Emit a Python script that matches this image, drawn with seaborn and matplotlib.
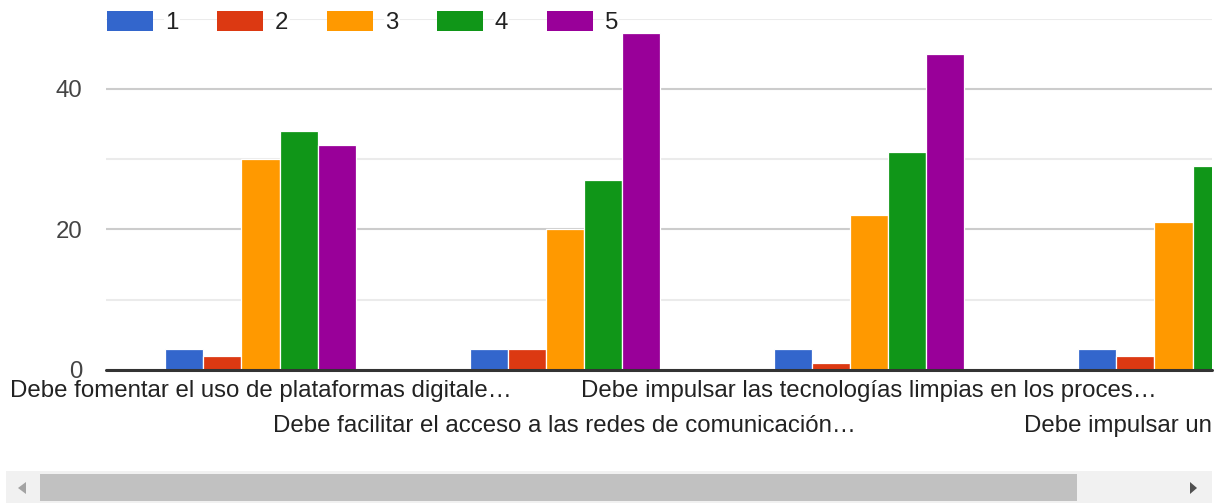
import matplotlib
matplotlib.use("Agg")
import matplotlib.pyplot as plt
import seaborn as sns
import pandas as pd
from matplotlib.patches import Rectangle, Polygon, Patch

# ---------------- data ----------------
categories = [
    "Debe fomentar el uso de plataformas digitale…",
    "Debe facilitar el acceso a las redes de comunicación…",
    "Debe impulsar las tecnologías limpias en los proces…",
    "Debe impulsar un desarrollo",
]
ratings = ["1", "2", "3", "4", "5"]
r1 = [3, 3, 3, 3]
r2 = [2, 3, 1, 2]
r3 = [30, 20, 22, 21]
r4 = [34, 27, 31, 29]
r5 = [32, 48, 45, None]   # last one is outside the visible area
colors = ["#3366cc", "#dc3912", "#ff9900", "#109618", "#990099"]
y_major = [0, 20, 40]
y_minor = [10, 30, 50]

rows = []
for rating, vals in zip(ratings, [r1, r2, r3, r4, r5]):
    for cat, v in zip(categories, vals):
        if v is not None:
            rows.append({"cat": cat, "rating": rating, "value": v})
df = pd.DataFrame(rows)

# ---------------- figure ----------------
sns.set_style("white")
plt.rcParams["font.family"] = ["Liberation Sans", "DejaVu Sans"]
FS = 17.3

W, H = 1218, 503
fig = plt.figure(figsize=(W / 100, H / 100), dpi=100)
ax = fig.add_axes([106 / W, (H - 370) / H, (1212 - 106) / W, (370 - 18.5) / H])

sns.barplot(data=df, x="cat", y="value", hue="rating", order=categories,
            hue_order=ratings, palette=colors, saturation=1, width=0.625,
            gap=0, edgecolor="white", linewidth=0.9, legend=False, ax=ax,
            errorbar=None)

ax.set_xlim(-0.5077, 3.1265)
ax.set_ylim(0, 50)
ax.set_yticks(y_major)
ax.set_yticks(y_minor, minor=True)
ax.grid(axis="y", which="major", color="#cccccc", lw=1.5)
ax.grid(axis="y", which="minor", color="#ebebeb", lw=1.5)
ax.set_axisbelow(True)
ax.axhline(0, color="#333333", lw=2.2, zorder=5, clip_on=False)
for s in ax.spines.values():
    s.set_visible(False)
ax.set_xlabel("")
ax.set_ylabel("")

ax.tick_params(axis="y", which="both", length=0, pad=17, labelsize=FS,
               labelcolor="#444444")
ax.tick_params(axis="x", length=0, pad=7.5, labelsize=FS, labelcolor="#222222")
ax.set_xticks(range(len(categories)))
ax.set_xticklabels([c if i % 2 == 0 else "\n" + c for i, c in enumerate(categories)])
for lab in ax.get_xticklabels():
    lab.set_linespacing(1.72)

# legend
handles = [Patch(facecolor=c, edgecolor="none") for c in colors]
leg = fig.legend(handles, ratings, loc="upper left",
                 bbox_to_anchor=(107 / W, 1 - 11 / H), ncol=5, frameon=False,
                 handlelength=1.92, handleheight=0.92, handletextpad=0.5,
                 columnspacing=1.6, borderpad=0, borderaxespad=0, fontsize=FS)
for t in leg.get_texts():
    t.set_color("#222222")
    t.set_bbox(dict(facecolor="white", edgecolor="none", pad=0.8))

# scrollbar decoration
fig.patches.append(Rectangle((6 / W, 0), 1206 / W, 32 / H, transform=fig.transFigure,
                             facecolor="#f1f1f1", edgecolor="none", figure=fig))
fig.patches.append(Rectangle((40 / W, 2 / H), (1077 - 40) / W, 27 / H,
                             transform=fig.transFigure, facecolor="#c1c1c1",
                             edgecolor="none", figure=fig))
cy = (H - 488) / H
fig.patches.append(Polygon([(18 / W, cy), (26 / W, cy + 6 / H), (26 / W, cy - 6 / H)],
                           closed=True, transform=fig.transFigure,
                           facecolor="#a3a3a3", edgecolor="none", figure=fig))
fig.patches.append(Polygon([(1197 / W, cy), (1190 / W, cy + 6 / H), (1190 / W, cy - 6 / H)],
                           closed=True, transform=fig.transFigure,
                           facecolor="#505050", edgecolor="none", figure=fig))

fig.savefig("out.png", dpi=100)
